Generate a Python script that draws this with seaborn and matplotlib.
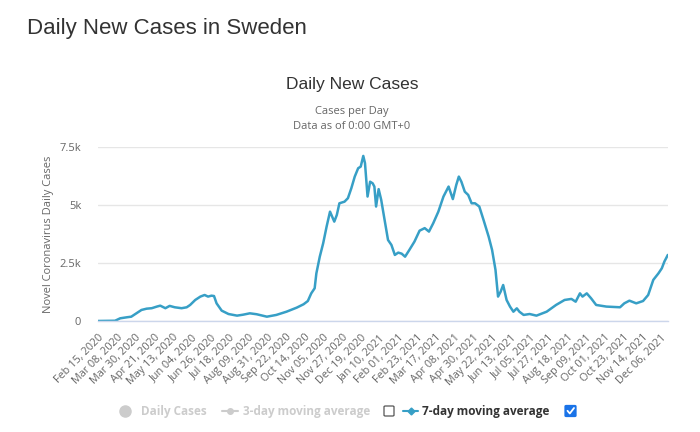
import matplotlib
matplotlib.use("Agg")
import matplotlib.pyplot as plt
import matplotlib.patches as mpatches
from matplotlib.lines import Line2D
import seaborn as sns
import pandas as pd

dates = [
    "2020-02-15", "2020-03-06", "2020-03-12", "2020-03-20", "2020-03-25", "2020-03-31",
    "2020-04-06", "2020-04-12", "2020-04-18", "2020-04-24", "2020-04-28", "2020-05-04",
    "2020-05-09", "2020-05-15", "2020-05-23", "2020-05-29", "2020-06-02", "2020-06-08",
    "2020-06-14", "2020-06-19", "2020-06-23", "2020-06-27", "2020-06-30", "2020-07-03",
    "2020-07-09", "2020-07-17", "2020-07-27", "2020-08-03", "2020-08-11", "2020-08-19",
    "2020-08-31", "2020-09-11", "2020-09-23", "2020-10-05", "2020-10-13", "2020-10-18",
    "2020-10-22", "2020-10-26", "2020-10-28", "2020-11-01", "2020-11-05", "2020-11-09",
    "2020-11-13", "2020-11-18", "2020-11-21", "2020-11-24", "2020-11-30", "2020-12-04",
    "2020-12-08", "2020-12-12", "2020-12-16", "2020-12-19", "2020-12-22", "2020-12-24",
    "2020-12-27", "2020-12-30", "2021-01-02", "2021-01-04", "2021-01-06", "2021-01-09",
    "2021-01-12", "2021-01-16", "2021-01-20", "2021-01-24", "2021-01-28", "2021-02-01",
    "2021-02-05", "2021-02-09", "2021-02-14", "2021-02-20", "2021-02-26", "2021-03-04",
    "2021-03-09", "2021-03-14", "2021-03-20", "2021-03-26", "2021-04-01", "2021-04-06",
    "2021-04-10", "2021-04-13", "2021-04-16", "2021-04-20", "2021-04-24", "2021-04-28",
    "2021-05-02", "2021-05-07", "2021-05-12", "2021-05-18", "2021-05-22", "2021-05-26",
    "2021-05-29", "2021-06-01", "2021-06-04", "2021-06-08", "2021-06-12", "2021-06-16",
    "2021-06-20", "2021-06-23", "2021-06-28", "2021-07-05", "2021-07-13", "2021-07-25",
    "2021-08-05", "2021-08-15", "2021-08-23", "2021-08-28", "2021-09-02", "2021-09-05",
    "2021-09-10", "2021-09-15", "2021-09-21", "2021-10-03", "2021-10-19", "2021-10-24",
    "2021-10-30", "2021-11-07", "2021-11-15", "2021-11-21", "2021-11-27", "2021-12-03",
    "2021-12-07", "2021-12-10", "2021-12-12", "2021-12-14",
]
avg7 = [
    0, 10, 115, 160, 185, 330,
    475, 530, 550, 620, 660, 550,
    650, 590, 550, 590, 690, 905,
    1050, 1120, 1050, 1090, 1075, 760,
    445, 300, 230, 270, 330, 290,
    185, 260, 400, 575, 720, 860,
    1190, 1410, 2050, 2770, 3350, 4065,
    4710, 4280, 4570, 5070, 5140, 5290,
    5720, 6220, 6580, 6650, 7110, 6800,
    5360, 6000, 5930, 5790, 4930, 5680,
    5220, 4350, 3490, 3275, 2845, 2945,
    2900, 2770, 3060, 3420, 3890, 4000,
    3850, 4210, 4710, 5360, 5790, 5250,
    5860, 6220, 6000, 5570, 5430, 5070,
    5070, 4930, 4350, 3630, 3060, 2200,
    1050, 1260, 1550, 905, 620, 400,
    545, 400, 260, 300, 230, 400,
    690, 905, 950, 830, 1190, 1050,
    1190, 980, 690, 620, 590, 760,
    875, 760, 860, 1120, 1770, 2050,
    2270, 2560, 2700, 2845,
]
y_ticks = [0, 2500, 5000, 7500]
y_tick_labels = ["0", "2.5k", "5k", "7.5k"]

df = pd.DataFrame({"date": pd.to_datetime(dates), "cases": avg7})

sns.set_style("white")
plt.rcParams["font.family"] = ["Open Sans", "DejaVu Sans"]

fig = plt.figure(figsize=(7.0, 4.32), dpi=100)
ax = fig.add_axes([0.14, 0.257, 0.814, 0.403])

line_color = "#379fc6"
sns.lineplot(data=df, x="date", y="cases", ax=ax, color=line_color, linewidth=1.8)

ax.set_xlim(df["date"].iloc[0], df["date"].iloc[-1])
ax.set_ylim(0, 7500)
ax.set_yticks(y_ticks)
ax.set_yticklabels(y_tick_labels)
ax.grid(axis="y", color="#e6e6e6", linewidth=1)
ax.set_axisbelow(True)
for s in ["top", "right", "left"]:
    ax.spines[s].set_visible(False)
ax.spines["bottom"].set_color("#ccd6eb")
ax.spines["bottom"].set_linewidth(1)

xt = pd.date_range("2020-02-15", periods=31, freq="22D")
ax.set_xticks(xt)
ax.set_xticklabels([d.strftime("%b %d, %Y") for d in xt], rotation=45,
                   ha="right", va="top", rotation_mode="anchor")
ax.tick_params(axis="x", length=0, pad=8, labelsize=7.8, labelcolor="#666666")
ax.tick_params(axis="y", length=0, pad=12, labelsize=8, labelcolor="#666666")
ax.set_xlabel("")
ax.set_ylabel("Novel Coronavirus Daily Cases", color="#666666", fontsize=8, labelpad=4)

fig.text(0.038, 0.935, "Daily New Cases in Sweden", fontsize=16, color="#333333",
         family=["Liberation Sans", "DejaVu Sans"], va="center", ha="left")
fig.text(0.503, 0.805, "Daily New Cases", fontsize=12.5, color="#333333",
         family=["Liberation Sans", "DejaVu Sans"], va="center", ha="center")
fig.text(0.503, 0.743, "Cases per Day", fontsize=8, color="#666666", va="center", ha="center")
fig.text(0.503, 0.708, "Data as of 0:00 GMT+0", fontsize=8, color="#666666", va="center", ha="center")

# legend
ly = 1 - 411 / 432
W, H = 700.0, 432.0
fig.add_artist(Line2D([125 / W], [ly], marker="o", markersize=8, color="#cccccc",
                      linestyle="none", transform=fig.transFigure))
fig.text(141 / W, ly, "Daily Cases", fontsize=8.5, fontweight="bold", color="#cccccc",
         va="center", ha="left")
fig.add_artist(Line2D([222 / W, 238 / W], [ly, ly], color="#cccccc", linewidth=1.5,
                      transform=fig.transFigure))
fig.add_artist(Line2D([230 / W], [ly], marker="o", markersize=4, color="#cccccc",
                      linestyle="none", transform=fig.transFigure))
fig.text(243 / W, ly, "3-day moving average", fontsize=8.5, fontweight="bold", color="#cccccc",
         va="center", ha="left")
fig.add_artist(mpatches.FancyBboxPatch((384 / W, ly - 5 / H), 10 / W, 10 / H,
                                       boxstyle="round,pad=0,rounding_size=0.002",
                                       transform=fig.transFigure, facecolor="white",
                                       edgecolor="#555555", linewidth=0.9))
fig.add_artist(Line2D([403 / W, 418 / W], [ly, ly], color=line_color, linewidth=1.5,
                      transform=fig.transFigure))
fig.add_artist(Line2D([410.5 / W], [ly], marker="D", markersize=3.5, color=line_color,
                      linestyle="none", transform=fig.transFigure))
fig.text(422 / W, ly, "7-day moving average", fontsize=8.5, fontweight="bold", color="#333333",
         va="center", ha="left")
fig.add_artist(mpatches.FancyBboxPatch((565 / W, ly - 5.5 / H), 11 / W, 11 / H,
                                       boxstyle="round,pad=0,rounding_size=0.002",
                                       transform=fig.transFigure, facecolor="#1a73e8",
                                       edgecolor="#1a73e8", linewidth=0.9))
fig.add_artist(Line2D([567.5 / W, 569.8 / W, 574 / W], [ly + 0.2 / H, ly - 2.5 / H, ly + 3 / H],
                      color="white", linewidth=1.3, transform=fig.transFigure))

fig.savefig("out.png", dpi=100, facecolor="white")
